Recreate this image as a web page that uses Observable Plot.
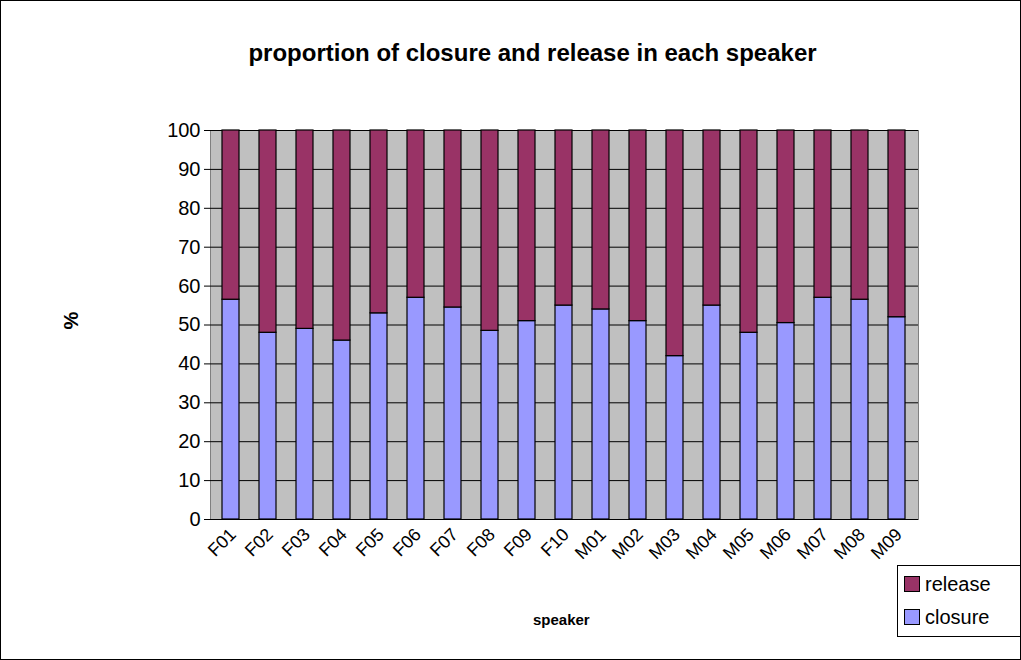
<!DOCTYPE html>
<html><head><meta charset="utf-8">
<script src="https://cdn.jsdelivr.net/npm/d3@7"></script>
<script src="https://cdn.jsdelivr.net/npm/@observablehq/plot@0.6"></script>
<style>
body{margin:0;font-family:"Liberation Sans",Arial,sans-serif;background:#fff}
#wrap{position:relative;width:1019px;height:658px;border:1px solid #000;overflow:hidden}
#title{position:absolute;top:38px;left:0;width:1019px;text-align:center;font-weight:bold;font-size:24px;padding-left:44px;box-sizing:border-box}
#ylab{position:absolute;left:62px;top:308px;font-weight:bold;font-size:20px;transform:rotate(-90deg)}
#xlab{position:absolute;left:532px;top:610px;font-weight:bold;font-size:15px}
#legend{position:absolute;left:896px;top:564px;width:130px;height:70px;border:1px solid #000;background:#fff;font-size:20px}
.it{display:flex;align-items:center;height:30px;margin-top:3px;padding-left:6px}
.sw{width:14px;height:14px;border:1px solid #000;margin-right:5px}
</style></head><body>
<div id="wrap">
<div id="title">proportion of closure and release in each speaker</div>
<div id="ylab">%</div>
<div id="xlab">speaker</div>
<div id="chart"></div>
<div id="legend">
<div class="it"><div class="sw" style="background:#993366"></div>release</div>
<div class="it"><div class="sw" style="background:#9999ff"></div>closure</div>
</div>
</div>
<script>
const speakers = ["F01","F02","F03","F04","F05","F06","F07","F08","F09","F10","M01","M02","M03","M04","M05","M06","M07","M08","M09"];
const closure = [56.5,48,49,46,53,57,54.5,48.5,51,55,54,51,42,55,48,50.5,57,56.5,52];
const series = ["release","closure"];
const colors = ["#993366","#9999ff"];

const rows = speakers.flatMap((s, i) => [
  {speaker: s, part: "closure", value: closure[i]},
  {speaker: s, part: "release", value: 100 - closure[i]}
]);

const plot = Plot.plot({
  width: 1019, height: 658,
  marginTop: 129, marginBottom: 140, marginLeft: 209, marginRight: 102,
  style: {fontFamily: "Liberation Sans, Arial, sans-serif", background: "transparent"},
  x: {domain: speakers, paddingInner: 0.53, paddingOuter: 0.25, label: null, tickRotate: -45, tickSize: 0},
  y: {domain: [0, 100], ticks: d3.range(0, 101, 10), label: null, tickSize: 6},
  color: {domain: series, range: colors},
  marks: [
    Plot.frame({fill: "#c0c0c0", stroke: "#808080"}),
    Plot.gridY(d3.range(10, 101, 10), {stroke: "#000", strokeOpacity: 1}),
    Plot.barY(rows, {x: "speaker", y: "value", fill: "part", order: ["closure","release"], stroke: "#000", strokeWidth: 1.2}),
    Plot.axisY({ticks: d3.range(0, 101, 10), fontSize: 20, tickSize: 6, tickPadding: 4}),
    Plot.axisX({tickRotate: -45, fontSize: 18, tickSize: 0, tickPadding: 12, textAnchor: "end", dx: 2}),
    Plot.ruleY([0], {stroke: "#000"})
  ]
});
document.getElementById("chart").append(plot);
</script>
</body></html>
